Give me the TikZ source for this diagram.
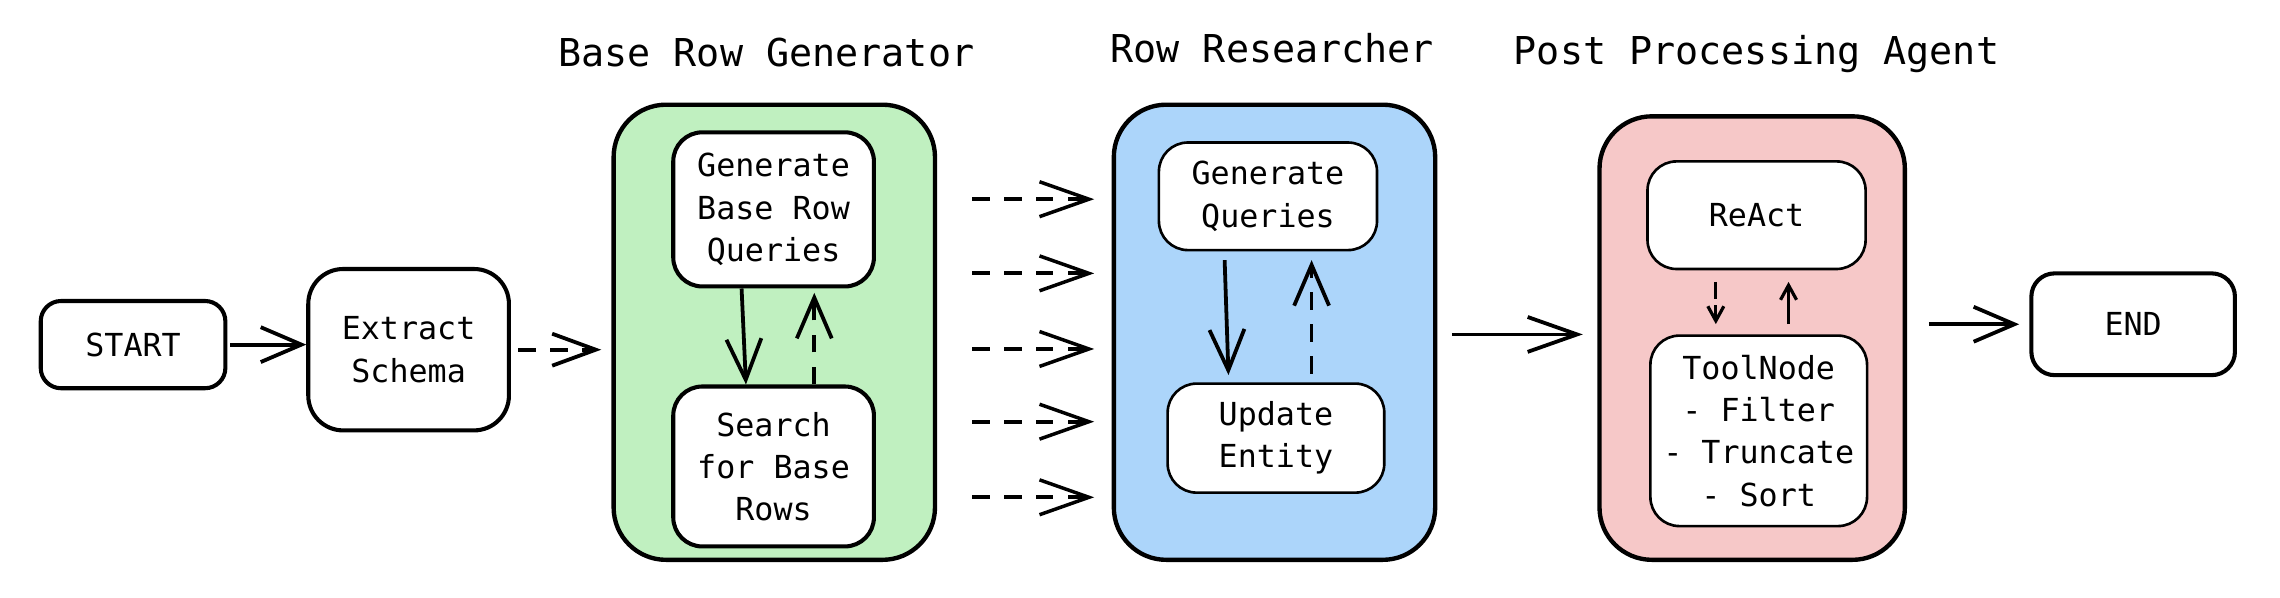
\documentclass[tikz,border=0pt]{standalone}
\usepackage{fontspec}
\setmonofont{DejaVu Sans Mono}
\usetikzlibrary{arrows.meta, positioning}
\definecolor{GenGreen}{RGB}{192, 240, 192}
\definecolor{ResBlue}{RGB}{172, 213, 250}
\definecolor{PostPink}{RGB}{246, 200, 200}

\begin{document}
\begin{tikzpicture}[
        x=0.5pt, y=-0.5pt,
        every node/.style={font=\ttfamily\fontsize{10.9}{14.5}\selectfont},
        block/.style={rectangle, draw, fill=white, align=center, rounded corners=10pt, line width=1.4pt, inner sep=2pt},
        thinblock/.style={block, line width=0.9pt},
        group/.style={rectangle, draw, rounded corners=18pt, line width=1.5pt, minimum width=110.5pt, minimum height=156.5pt},
        title/.style={font=\ttfamily\fontsize{13.2}{15}\selectfont},
        line/.style={draw, -{Straight Barb[length=14pt, width=12pt, line width=1.3pt]}, line width=1.3pt},
        dline/.style={line, dash pattern=on 6pt off 5pt},
        small/.style={draw, -{Straight Barb[length=5pt, width=5.5pt, line width=1.1pt]}, line width=1.1pt}
    ]
        \useasboundingbox (0,0) rectangle (1568,411);

        % start / schema
        \node [block, minimum width=63.5pt, minimum height=30pt, rounded corners=7pt] (start) at (91.5,237) {START};
        \node [block, minimum width=69pt, minimum height=55.5pt, rounded corners=12pt] (schema) at (281,240.5) {Extract\\Schema};

        % base row generator
        \node [group, fill=GenGreen] (gen) at (532.5,228.5) {};
        \node [title] (gentitle) at (527,36) {Base Row Generator};
        \node [block, minimum width=69pt, minimum height=53pt] (genbase) at (532,144) {Generate\\Base Row\\Queries};
        \node [block, minimum width=69pt, minimum height=55pt, below=33pt of genbase] (search) {Search\\for Base\\Rows};

        % row researcher
        \node [group, fill=ResBlue] (res) at (876.5,228.5) {};
        \node [title] (restitle) at (875,33) {Row Researcher};
        \node [thinblock, minimum width=75pt, minimum height=37pt] (genq) at (872,135) {Generate\\Queries};
        \node [thinblock, minimum width=74.5pt, minimum height=37.5pt, below=45pt of genq, xshift=2.75pt] (update) {Update\\Entity};

        % post processing
        \node [group, fill=PostPink, minimum width=105pt, minimum height=152.5pt] (post) at (1205,232.5) {};
        \node [title] (posttitle) at (1208,37) {Post Processing Agent};
        \node [thinblock, minimum width=75pt, minimum height=37pt] (react) at (1208,148) {ReAct};
        \node [thinblock, minimum width=74.5pt, minimum height=65.5pt, below=22pt of react, xshift=0.75pt] (tool) {ToolNode\\- Filter\\- Truncate\\- Sort};

        \node [block, minimum width=70pt, minimum height=35pt, rounded corners=8pt] (end) at (1467,223) {END};

        % connectors
        \path [line, shorten <=1pt] (start.east) -- (schema.west |- start.east);
        \path [dline, -{Straight Barb[length=15pt, width=11pt, line width=1.3pt]}, shorten <=2.5pt, shorten >=3.5pt] (schema.east) -- (gen.west |- schema.east);
        \path [line] ([xshift=-11pt]genbase.south) -- ([xshift=-9.5pt]search.north);
        \path [dline, shorten >=1.5pt] ([xshift=14pt]search.north) -- ([xshift=14pt]genbase.south);
        \foreach \y in {137, 188, 240, 290, 342}
            \path [dline, -{Straight Barb[length=17pt, width=12pt, line width=1.2pt]}, shorten <=12pt, shorten >=6pt] (gen.east |- 0,\y) -- (res.west |- 0,\y);
        \path [line, shorten <=3pt, shorten >=2.5pt] ([xshift=-15pt]genq.south) -- ([xshift=-16.25pt]update.north);
        \path [dline, shorten <=3pt, shorten >=3pt] ([xshift=12.25pt]update.north) -- ([xshift=15pt]genq.south);
        \path [line, -{Straight Barb[length=17pt, width=12pt, line width=1.3pt]}, shorten <=5pt, shorten >=5pt] (res.east |- 0,230) -- (post.west |- 0,230);
        \path [small, dash pattern=on 6pt off 2pt, shorten <=4pt, shorten >=3.5pt] ([xshift=-14pt]react.south) -- ([xshift=-14.75pt]tool.north);
        \path [small, shorten <=3.5pt, shorten >=4pt] ([xshift=10.25pt]tool.north) -- ([xshift=11pt]react.south);
        \path [line, shorten <=7.5pt, shorten >=3.5pt] (post.east |- end.west) -- (end.west);
    \end{tikzpicture}
\end{document}
